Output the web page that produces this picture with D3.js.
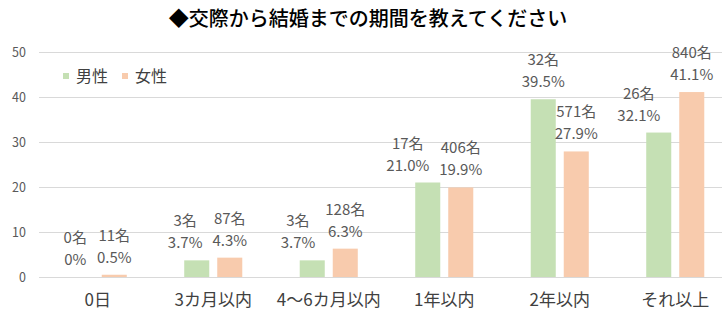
<!DOCTYPE html>
<html lang="ja">
<head>
<meta charset="utf-8">
<title>交際から結婚までの期間</title>
<script src="https://d3js.org/d3.v7.min.js"></script>
<style>
  body { margin: 0; background: #fff; }
  svg text { font-family: "Noto Sans CJK JP", "Noto Sans", sans-serif; }
</style>
</head>
<body>
<svg id="chart" width="724" height="321"></svg>
<script>
// data
var categories = ["0日", "3カ月以内", "4〜6カ月以内", "1年以内", "2年以内", "それ以上"];
var series = ["男性", "女性"];
var maleCounts = [0, 3, 3, 17, 32, 26];
var malePct = [0, 3.7, 3.7, 21.0, 39.5, 32.1];
var femaleCounts = [11, 87, 128, 406, 571, 840];
var femalePct = [0.5, 4.3, 6.3, 19.9, 27.9, 41.1];
var yTicks = [0, 10, 20, 30, 40, 50];
var colors = ["#C5E0B4", "#F8CBAD"];

var svg = d3.select("#chart");

var x0 = d3.scaleBand().domain(categories).range([40, 733]);
var x1 = d3.scaleBand().domain(series).range([0, x0.bandwidth()])
  .paddingInner(0.242).paddingOuter(0.87);
var y = d3.scaleLinear().domain([0, 50]).range([277, 52]);

// title
svg.append("text")
  .attr("x", 368).attr("y", 26)
  .attr("text-anchor", "middle")
  .attr("font-size", 20).attr("font-weight", 500)
  .attr("fill", "#000")
  .text("◆交際から結婚までの期間を教えてください");

// grid
svg.append("g").selectAll("line")
  .data(yTicks).enter().append("line")
  .attr("x1", 39).attr("x2", 722)
  .attr("y1", function(d) { return y(d) + 0.5; })
  .attr("y2", function(d) { return y(d) + 0.5; })
  .attr("stroke", "#d9d9d9").attr("stroke-width", 1);

// y axis labels
svg.append("g").selectAll("text")
  .data(yTicks).enter().append("text")
  .attr("x", 26).attr("y", function(d) { return y(d) + 4.5; })
  .attr("text-anchor", "end")
  .attr("font-size", 12.5).attr("fill", "#595959")
  .text(function(d) { return d; });

// rows
var rows = categories.map(function(c, i) {
  return [
    { cat: c, s: series[0], pct: malePct[i], n: maleCounts[i] },
    { cat: c, s: series[1], pct: femalePct[i], n: femaleCounts[i] }
  ];
});

var groups = svg.append("g").selectAll("g")
  .data(rows).enter().append("g")
  .attr("transform", function(d) { return "translate(" + x0(d[0].cat) + ",0)"; });

groups.selectAll("rect")
  .data(function(d) { return d; }).enter().append("rect")
  .attr("x", function(d) { return x1(d.s); })
  .attr("width", x1.bandwidth())
  .attr("y", function(d) { return y(d.pct); })
  .attr("height", function(d) { return y(0) - y(d.pct); })
  .attr("fill", function(d, i) { return colors[i]; });

// value labels
function pctText(v) { return v === 0 ? "0%" : v.toFixed(1) + "%"; }

var labels = groups.selectAll("g.lbl")
  .data(function(d) { return d; }).enter().append("g")
  .attr("class", "lbl")
  .attr("transform", function(d) {
    return "translate(" + (x1(d.s) + x1.bandwidth() / 2) + "," + y(d.pct) + ")";
  });
labels.append("text")
  .attr("y", -34)
  .attr("text-anchor", "middle")
  .attr("font-size", 15).attr("fill", "#595959")
  .text(function(d) { return d.n + "名"; });
labels.append("text")
  .attr("y", -12)
  .attr("text-anchor", "middle")
  .attr("font-size", 15).attr("fill", "#595959")
  .text(function(d) { return pctText(d.pct); });

// push the male label left when it runs into the female one
groups.each(function(d) {
  var lbl = d3.select(this).selectAll("g.lbl").nodes();
  var w = lbl.map(function(n) {
    var t = n.querySelectorAll("text");
    return Math.max(t[0].getComputedTextLength(), t[1].getComputedTextLength());
  });
  var cx = d.map(function(e) { return x1(e.s) + x1.bandwidth() / 2; });
  if (Math.abs(y(d[0].pct) - y(d[1].pct)) < 45) {
    var overlap = (cx[0] + w[0] / 2) - (cx[1] - w[1] / 2 - 10);
    if (overlap > 0) {
      d3.select(lbl[0]).attr("transform",
        "translate(" + (cx[0] - overlap) + "," + y(d[0].pct) + ")");
    }
  }
});

// x labels
svg.append("g").selectAll("text")
  .data(categories).enter().append("text")
  .attr("x", function(d) { return x0(d) + x0.bandwidth() / 2; })
  .attr("y", 306)
  .attr("text-anchor", "middle")
  .attr("font-size", 17).attr("fill", "#404040")
  .text(function(d) { return d; });

// legend
var leg = svg.append("g").selectAll("g")
  .data(series).enter().append("g")
  .attr("transform", function(d, i) { return "translate(" + (63 + i * 59) + ",0)"; });
leg.append("rect")
  .attr("x", 0).attr("y", 73).attr("width", 6).attr("height", 6)
  .attr("fill", function(d, i) { return colors[i]; });
leg.append("text")
  .attr("x", 13).attr("y", 82)
  .attr("font-size", 16).attr("fill", "#404040")
  .text(function(d) { return d; });
</script>
</body>
</html>
